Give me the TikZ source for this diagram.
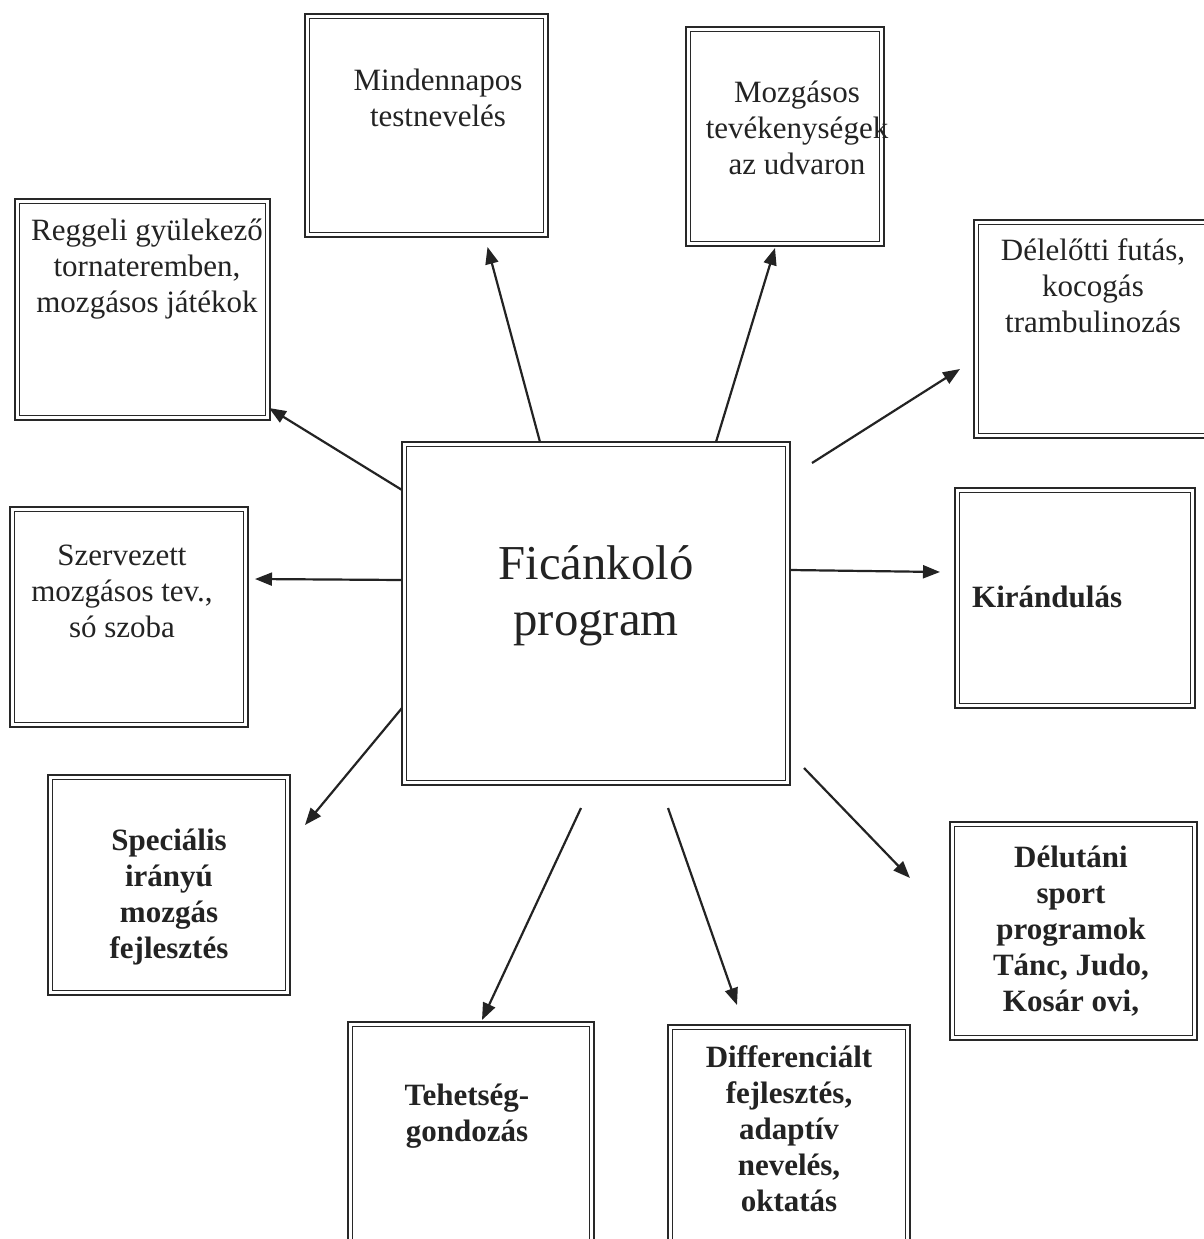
\documentclass[tikz,border=0pt]{standalone}
\usepackage{fontspec}
\setmainfont{Liberation Serif}
\usetikzlibrary{arrows.meta,calc}
\definecolor{boxc}{RGB}{40,40,40}
\definecolor{textc}{RGB}{35,35,35}
\definecolor{arrc}{RGB}{35,35,35}
\begin{document}
\begin{tikzpicture}[x=1pt,y=-1pt,
  box/.style={draw=boxc, line width=2.8pt, outer sep=0pt, inner sep=0pt, fill=white},
  innerline/.style={draw=boxc, line width=0.9pt},
  lbl/.style={text=textc, font=\fontsize{31}{36}\selectfont, align=center, inner sep=0pt, anchor=north},
  blbl/.style={text=textc, font=\fontsize{31}{36}\selectfont\bfseries, align=center, inner sep=0pt, anchor=north},
  arr/.style={draw=arrc, line width=2.2pt, -{Triangle[length=17pt,width=13pt]}},
]
\fill[white] (0,0) rectangle (1203,1239);
\useasboundingbox (0,0) rectangle (1203,1239);

% boxes
\node[box, minimum width=255pt, minimum height=221pt] (reg) at (142.5,309.5) {};
\node[box, minimum width=243pt, minimum height=223pt] (min) at (426.5,125.5) {};
\node[box, minimum width=198pt, minimum height=219pt] (moz) at (785,136.5) {};
\node[box, minimum width=241pt, minimum height=218pt] (del) at (1094.5,329) {};
\node[box, minimum width=238pt, minimum height=220pt] (sze) at (129,617) {};
\node[box, minimum width=388pt, minimum height=343pt] (c) at (596,613.5) {};
\node[box, minimum width=240pt, minimum height=220pt] (kir) at (1075,598) {};
\node[box, minimum width=242pt, minimum height=220pt] (spe) at (169,885) {};
\node[box, minimum width=247pt, minimum height=218pt] (delu) at (1073.5,931) {};
\node[box, minimum width=246pt, minimum height=228pt] (teh) at (471,1136) {};
\node[box, minimum width=242pt, minimum height=225pt] (dif) at (789,1137.5) {};

\foreach \n in {reg,min,moz,del,sze,c,kir,spe,delu,teh,dif}
  \draw[innerline] ($(\n.north west)+(4.2,4.2)$) rectangle ($(\n.south east)+(-4.2,-4.2)$);

% labels
\node[lbl] (treg) at (147,214.8) {\strut Reggeli gyülekező\\tornateremben,\\mozgásos játékok};
\node[lbl] (tmin) at (438,64.8) {\strut Mindennapos\\testnevelés};
\node[lbl] (tmoz) at (797,76.8) {\strut Mozgásos\\tevékenységek\\az udvaron};
\node[lbl] (tdel) at (1093,234.8) {\strut Délelőtti futás,\\kocogás\\trambulinozás};
\node[lbl] (tsze) at (122,539.8) {\strut Szervezett\\mozgásos tev.,\\só szoba};
\node[text=textc, font=\fontsize{48.75}{56}\selectfont, align=center, inner sep=0pt, anchor=north] (tc) at (596,539.8) {\strut Ficánkoló\\program};
\node[text=textc, font=\fontsize{31}{36}\selectfont\bfseries, inner sep=0pt, anchor=base west] (tkir) at (972,607) {Kirándulás};
\node[blbl] (tspe) at (169,824.8) {\strut Speciális\\irányú\\mozgás\\fejlesztés};
\node[blbl] (tdelu) at (1071,841.8) {\strut Délutáni\\sport\\programok\\Tánc, Judo,\\Kosár ovi,};
\node[blbl] (tteh) at (467,1079.8) {\strut Tehetség-\\gondozás};
\node[blbl] (tdif) at (789,1041.8) {\strut Differenciált\\fejlesztés,\\adaptív\\nevelés,\\oktatás};

% arrows
\draw[arr] ($(c.north west)+(0,48)$) -- ($(reg.south east)+(-1,-12)$);
\draw[arr] ($(c.north west)+(138,0)$) -- ($(min.south)+(61,10)$);
\draw[arr] ($(c.north west)+(314,0)$) -- ($(moz.south)+(-10,2)$);
\draw[arr] ($(c.north east)+(22,21)$) -- ($(del.west)+(-14,40)$);
\draw[arr] ($(c.west)+(0,-33.5)$) -- ($(sze.east)+(7,-38)$);
\draw[arr] ($(c.east)+(0,-43.5)$) -- ($(kir.west)+(-15,-26)$);
\draw[arr] ($(c.south west)+(0,-77)$) -- ($(spe.north east)+(15,50)$);
\draw[arr] ($(c.south east)+(14,-17)$) -- ($(delu.west)+(-40,-53)$);
\draw[arr] ($(c.south)+(-15,23)$) -- ($(teh.north)+(11,-2)$);
\draw[arr] ($(c.south)+(72,23)$) -- ($(dif.north)+(-52,-20)$);
\end{tikzpicture}
\end{document}
